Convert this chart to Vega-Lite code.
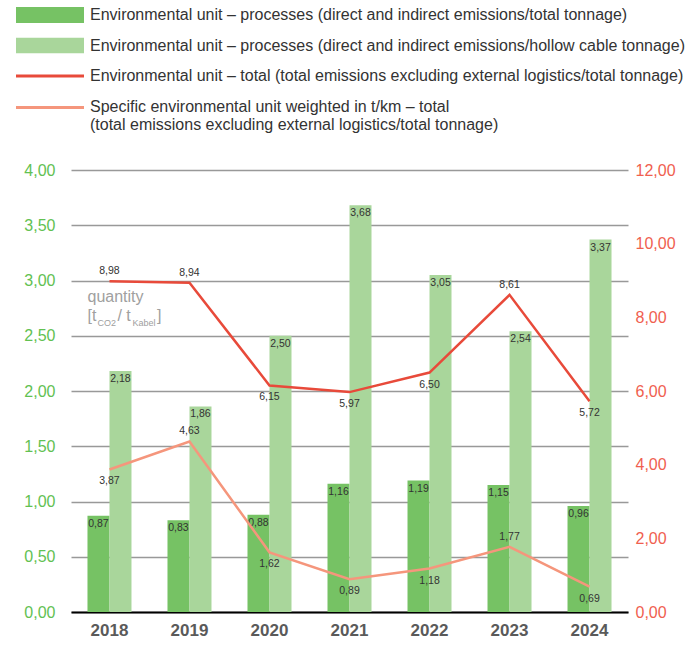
{
  "$schema": "https://vega.github.io/schema/vega-lite/v6.json",
  "width": 557,
  "height": 442,
  "padding": {"left": 16, "top": 7, "right": 3, "bottom": 3},
  "datasets": {
    "emissions": [
      {"year": "2018", "series": "Environmental unit – processes (direct and indirect emissions/total tonnage)", "value": 0.87},
      {"year": "2019", "series": "Environmental unit – processes (direct and indirect emissions/total tonnage)", "value": 0.83},
      {"year": "2020", "series": "Environmental unit – processes (direct and indirect emissions/total tonnage)", "value": 0.88},
      {"year": "2021", "series": "Environmental unit – processes (direct and indirect emissions/total tonnage)", "value": 1.16},
      {"year": "2022", "series": "Environmental unit – processes (direct and indirect emissions/total tonnage)", "value": 1.19},
      {"year": "2023", "series": "Environmental unit – processes (direct and indirect emissions/total tonnage)", "value": 1.15},
      {"year": "2024", "series": "Environmental unit – processes (direct and indirect emissions/total tonnage)", "value": 0.96},
      {"year": "2018", "series": "Environmental unit – processes (direct and indirect emissions/hollow cable tonnage)", "value": 2.18},
      {"year": "2019", "series": "Environmental unit – processes (direct and indirect emissions/hollow cable tonnage)", "value": 1.86},
      {"year": "2020", "series": "Environmental unit – processes (direct and indirect emissions/hollow cable tonnage)", "value": 2.50},
      {"year": "2021", "series": "Environmental unit – processes (direct and indirect emissions/hollow cable tonnage)", "value": 3.68},
      {"year": "2022", "series": "Environmental unit – processes (direct and indirect emissions/hollow cable tonnage)", "value": 3.05},
      {"year": "2023", "series": "Environmental unit – processes (direct and indirect emissions/hollow cable tonnage)", "value": 2.54},
      {"year": "2024", "series": "Environmental unit – processes (direct and indirect emissions/hollow cable tonnage)", "value": 3.37},
      {"year": "2018", "series": "Environmental unit – total (total emissions excluding external logistics/total tonnage)", "value": 8.98},
      {"year": "2019", "series": "Environmental unit – total (total emissions excluding external logistics/total tonnage)", "value": 8.94},
      {"year": "2020", "series": "Environmental unit – total (total emissions excluding external logistics/total tonnage)", "value": 6.15},
      {"year": "2021", "series": "Environmental unit – total (total emissions excluding external logistics/total tonnage)", "value": 5.97},
      {"year": "2022", "series": "Environmental unit – total (total emissions excluding external logistics/total tonnage)", "value": 6.50},
      {"year": "2023", "series": "Environmental unit – total (total emissions excluding external logistics/total tonnage)", "value": 8.61},
      {"year": "2024", "series": "Environmental unit – total (total emissions excluding external logistics/total tonnage)", "value": 5.72},
      {"year": "2018", "series": "Specific environmental unit weighted in t/km – total\n(total emissions excluding external logistics/total tonnage)", "value": 3.87},
      {"year": "2019", "series": "Specific environmental unit weighted in t/km – total\n(total emissions excluding external logistics/total tonnage)", "value": 4.63},
      {"year": "2020", "series": "Specific environmental unit weighted in t/km – total\n(total emissions excluding external logistics/total tonnage)", "value": 1.62},
      {"year": "2021", "series": "Specific environmental unit weighted in t/km – total\n(total emissions excluding external logistics/total tonnage)", "value": 0.89},
      {"year": "2022", "series": "Specific environmental unit weighted in t/km – total\n(total emissions excluding external logistics/total tonnage)", "value": 1.18},
      {"year": "2023", "series": "Specific environmental unit weighted in t/km – total\n(total emissions excluding external logistics/total tonnage)", "value": 1.77},
      {"year": "2024", "series": "Specific environmental unit weighted in t/km – total\n(total emissions excluding external logistics/total tonnage)", "value": 0.69}
    ]
  },
  "data": {"name": "emissions"},
  "encoding": {
    "x": {
      "field": "year",
      "type": "ordinal",
      "scale": {"paddingInner": 0.45, "paddingOuter": 0.206},
      "axis": {
        "title": null,
        "labelAngle": 0,
        "labelFontSize": 17,
        "labelFontWeight": "bold",
        "labelColor": "#5a5a5a",
        "labelPadding": 10,
        "ticks": false,
        "domainColor": "#000000",
        "domainWidth": 2,
        "grid": false
      }
    },
    "color": {
      "field": "series",
      "type": "nominal",
      "scale": {
        "domain": [
          "Environmental unit – processes (direct and indirect emissions/total tonnage)",
          "Environmental unit – processes (direct and indirect emissions/hollow cable tonnage)",
          "Environmental unit – total (total emissions excluding external logistics/total tonnage)",
          "Specific environmental unit weighted in t/km – total\n(total emissions excluding external logistics/total tonnage)"
        ],
        "range": ["#76c264", "#a9d69b", "#e84a3a", "#f5967c"]
      },
      "legend": {
        "orient": "none",
        "legendX": -55,
        "legendY": -163,
        "title": null,
        "padding": 0,
        "symbolSize": 4624,
        "clipHeight": 16,
        "rowPadding": 14.5,
        "labelOffset": 6,
        "labelFontSize": 16,
        "labelColor": "#333333",
        "labelLimit": 700,
        "labelExpr": "split(datum.label, '\\n')",
        "encode": {
          "symbols": {
            "update": {
              "shape": {"signal": "indexof(datum.value, 'processes') >= 0 ? 'M-1,-0.235H1V0.235H-1Z' : 'M-1,-0.045H1V0.045H-1Z'"},
              "fill": {"scale": "color", "field": "value"},
              "stroke": {"value": "transparent"},
              "strokeWidth": {"value": 0},
              "opacity": {"value": 1}
            }
          },
          "labels": {
            "update": {
              "dy": {"signal": "indexof(datum.value, 'Specific') == 0 ? -1 : 0"}
            }
          }
        }
      }
    }
  },
  "layer": [
    {
      "encoding": {
        "y": {
          "field": "value",
          "type": "quantitative",
          "scale": {"domain": [0, 4], "nice": false},
          "axis": {
            "orient": "left",
            "title": null,
            "values": [0, 0.5, 1, 1.5, 2, 2.5, 3, 3.5, 4],
            "format": ".2f",
            "labelFontSize": 16,
            "labelColor": "#62c152",
            "labelPadding": 16,
            "ticks": false,
            "domain": false,
            "grid": true,
            "gridColor": "#999999",
            "gridWidth": 1.5
          }
        }
      },
      "layer": [
        {
          "transform": [{"filter": "indexof(datum.series, 'processes') >= 0"}],
          "mark": {"type": "bar"},
          "encoding": {
            "xOffset": {
              "field": "series",
              "type": "nominal",
              "sort": [
                "Environmental unit – processes (direct and indirect emissions/total tonnage)",
                "Environmental unit – processes (direct and indirect emissions/hollow cable tonnage)"
              ],
              "scale": {"paddingInner": 0, "paddingOuter": 0}
            }
          }
        },
        {
          "transform": [{"filter": "indexof(datum.series, 'processes') >= 0"}],
          "mark": {"type": "text", "baseline": "top", "dy": 3, "fontSize": 10.5},
          "encoding": {
            "xOffset": {
              "field": "series",
              "type": "nominal",
              "sort": [
                "Environmental unit – processes (direct and indirect emissions/total tonnage)",
                "Environmental unit – processes (direct and indirect emissions/hollow cable tonnage)"
              ],
              "scale": {"paddingInner": 0, "paddingOuter": 0}
            },
            "text": {"field": "value", "type": "quantitative", "format": ".2f"},
            "color": {"value": "#333333"}
          }
        },
        {
          "transform": [{"filter": "datum.year == '2018' && datum.value == 0.87"}],
          "mark": {"type": "text", "align": "left", "baseline": "middle", "fontSize": 16, "dx": -22, "text": "quantity"},
          "encoding": {"y": {"datum": 2.85}, "color": {"value": "#a0a0a0"}}
        },
        {
          "transform": [{"filter": "datum.year == '2018' && datum.value == 0.87"}],
          "mark": {"type": "text", "align": "left", "baseline": "middle", "fontSize": 16, "dx": -22, "text": "[t"},
          "encoding": {"y": {"datum": 2.68}, "color": {"value": "#a0a0a0"}}
        },
        {
          "transform": [{"filter": "datum.year == '2018' && datum.value == 0.87"}],
          "mark": {"type": "text", "align": "left", "baseline": "middle", "fontSize": 9, "dx": -12, "text": "CO2"},
          "encoding": {"y": {"datum": 2.615}, "color": {"value": "#a0a0a0"}}
        },
        {
          "transform": [{"filter": "datum.year == '2018' && datum.value == 0.87"}],
          "mark": {"type": "text", "align": "left", "baseline": "middle", "fontSize": 16, "dx": 8, "text": "/ t"},
          "encoding": {"y": {"datum": 2.68}, "color": {"value": "#a0a0a0"}}
        },
        {
          "transform": [{"filter": "datum.year == '2018' && datum.value == 0.87"}],
          "mark": {"type": "text", "align": "left", "baseline": "middle", "fontSize": 9, "dx": 23, "text": "Kabel"},
          "encoding": {"y": {"datum": 2.615}, "color": {"value": "#a0a0a0"}}
        },
        {
          "transform": [{"filter": "datum.year == '2018' && datum.value == 0.87"}],
          "mark": {"type": "text", "align": "left", "baseline": "middle", "fontSize": 16, "dx": 47.5, "text": "]"},
          "encoding": {"y": {"datum": 2.68}, "color": {"value": "#a0a0a0"}}
        }
      ]
    },
    {
      "transform": [{"filter": "indexof(datum.series, 'processes') < 0"}],
      "encoding": {
        "y": {
          "field": "value",
          "type": "quantitative",
          "scale": {"domain": [0, 12], "nice": false},
          "axis": {
            "orient": "right",
            "title": null,
            "values": [0, 2, 4, 6, 8, 10, 12],
            "format": ".2f",
            "labelFontSize": 16,
            "labelColor": "#f0604f",
            "labelPadding": 7,
            "ticks": false,
            "domain": false,
            "grid": false
          }
        }
      },
      "layer": [
        {"mark": {"type": "line", "strokeWidth": 2.5}},
        {
          "transform": [{"filter": "(indexof(datum.series, 'Specific') == 0 && (datum.year == '2019' || datum.year == '2023')) || (indexof(datum.series, 'Specific') != 0 && (datum.year == '2018' || datum.year == '2019' || datum.year == '2023'))"}],
          "mark": {"type": "text", "baseline": "bottom", "dy": -5, "fontSize": 10.5},
          "encoding": {
            "text": {"field": "value", "type": "quantitative", "format": ".2f"},
            "color": {"value": "#333333"}
          }
        },
        {
          "transform": [{"filter": "!((indexof(datum.series, 'Specific') == 0 && (datum.year == '2019' || datum.year == '2023')) || (indexof(datum.series, 'Specific') != 0 && (datum.year == '2018' || datum.year == '2019' || datum.year == '2023')))"}],
          "mark": {"type": "text", "baseline": "top", "dy": 7, "fontSize": 10.5},
          "encoding": {
            "text": {"field": "value", "type": "quantitative", "format": ".2f"},
            "color": {"value": "#333333"}
          }
        }
      ]
    }
  ],
  "resolve": {"scale": {"y": "independent"}},
  "config": {
    "font": "Liberation Sans",
    "view": {"stroke": null},
    "locale": {"number": {"decimal": ",", "thousands": ".", "grouping": [3], "currency": ["", " €"]}}
  }
}
